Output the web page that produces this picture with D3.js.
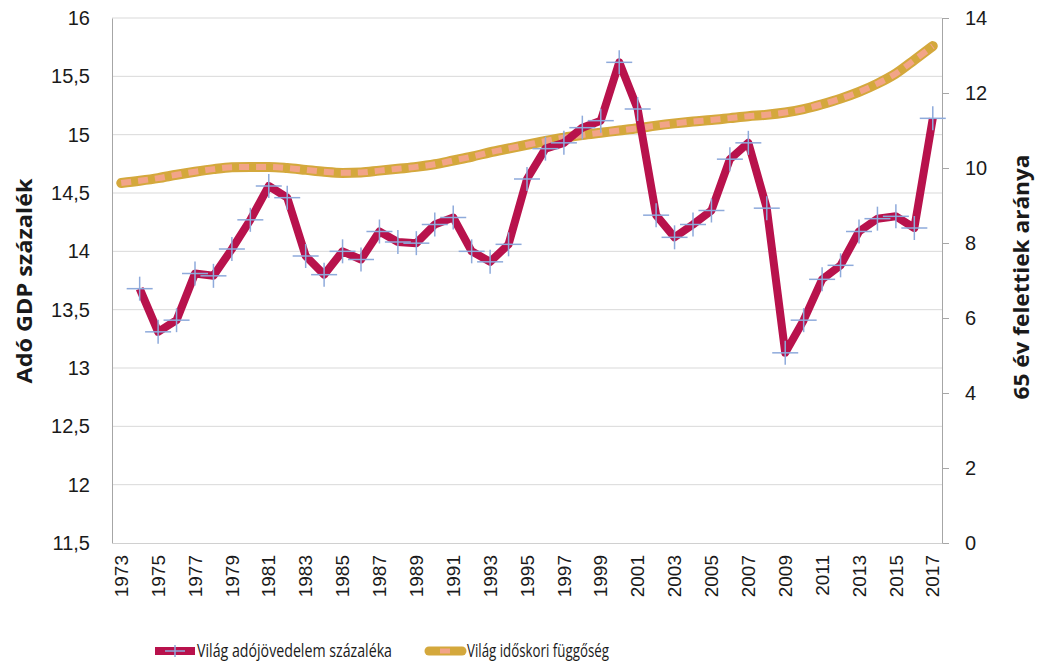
<!DOCTYPE html>
<html>
<head>
<meta charset="UTF-8">
<style>
    body { margin: 0; background: #fff; }
    svg { display: block; font-family: "Open Sans", "Noto Sans", sans-serif; }
    .grid line { stroke: #d9d9d9; stroke-width: 1px; }
    .tick text { fill: #1a1a1a; }
</style>
</head>
<body>
<svg></svg>
<script src="https://d3js.org/d3.v7.min.js"></script>
<script>
    let width = 1039, height = 664;

    // years on the x axis
    let years = d3.range(1973, 2018);
    let yearLabels = years.filter(y => (y - 1973) % 2 == 0);

    // tax revenue, % of GDP (left axis), starts 1974
    let taxYears = d3.range(1974, 2018);
    let taxValues = [13.68, 13.31, 13.41, 13.81, 13.79, 14.02, 14.27, 14.56, 14.46, 13.96, 13.8,
        14.0, 13.93, 14.17, 14.08, 14.07, 14.23, 14.29, 14.0, 13.91, 14.06, 14.62,
        14.88, 14.93, 15.06, 15.12, 15.62, 15.22, 14.31, 14.12, 14.23, 14.35, 14.79,
        14.93, 14.37, 13.13, 13.41, 13.76, 13.88, 14.17, 14.28, 14.3, 14.2, 15.14];

    // old-age dependency (right axis)
    let depValues = [9.6, 9.66, 9.73, 9.82, 9.9, 9.97, 10.02, 10.03, 10.03, 10.0, 9.95,
        9.9, 9.87, 9.88, 9.93, 9.98, 10.03, 10.1, 10.2, 10.3, 10.42, 10.52, 10.62,
        10.72, 10.81, 10.88, 10.94, 11.0, 11.06, 11.13, 11.19, 11.24, 11.28, 11.33,
        11.38, 11.42, 11.48, 11.57, 11.7, 11.85, 12.03, 12.25, 12.52, 12.88, 13.25];

    let leftTicks = [11.5, 12, 12.5, 13, 13.5, 14, 14.5, 15, 15.5, 16];
    let rightTicks = [0, 2, 4, 6, 8, 10, 12, 14];

    let margin = { left: 112, right: 97, top: 18, bottom: 121 };
    let x0 = margin.left, x1 = width - margin.right;
    let y0 = height - margin.bottom, y1 = margin.top;

    let svg = d3.select("svg").attr("width", width).attr("height", height);

    let x = d3.scaleBand().domain(years).range([x0, x1]);
    let xc = d => x(d) + x.bandwidth() / 2;
    let yL = d3.scaleLinear().domain([11.5, 16]).range([y0, y1]);
    let yR = d3.scaleLinear().domain([0, 14]).range([y0, y1]);

    let fmt = d => String(d).replace(".", ",");

    // grid
    svg.append("g").attr("class", "grid")
        .selectAll("line").data(leftTicks.slice(1)).enter().append("line")
        .attr("x1", x0).attr("x2", x1)
        .attr("y1", d => yL(d)).attr("y2", d => yL(d));

    // left axis
    let gl = svg.append("g").attr("transform", "translate(" + x0 + ",0)")
        .call(d3.axisLeft(yL).tickValues(leftTicks).tickFormat(fmt).tickSize(0).tickPadding(22));
    gl.select(".domain").attr("stroke", "#a6a6a6");
    gl.selectAll("text").attr("font-size", 20);

    // right axis
    let gr = svg.append("g").attr("transform", "translate(" + x1 + ",0)")
        .call(d3.axisRight(yR).tickValues(rightTicks).tickSize(7).tickPadding(16));
    gr.select(".domain").attr("stroke", "#a6a6a6");
    gr.selectAll(".tick line").attr("stroke", "#a6a6a6");
    gr.selectAll("text").attr("font-size", 20);

    // bottom axis
    let gb = svg.append("g").attr("transform", "translate(0," + y0 + ")")
        .call(d3.axisBottom(x).tickValues(yearLabels).tickSize(0).tickPadding(0));
    gb.select(".domain").attr("stroke", "#d0d0d0");
    gb.selectAll("text")
        .attr("font-size", 19)
        .attr("text-anchor", "end")
        .attr("dy", "0.35em")
        .attr("transform", "translate(0,12) rotate(-90)");

    // axis titles
    svg.append("text")
        .attr("transform", "translate(32,281) rotate(-90)")
        .attr("text-anchor", "middle").attr("font-size", 22).attr("font-weight", "bold")
        .attr("fill", "#1a1a1a").attr("textLength", 205).attr("lengthAdjust", "spacingAndGlyphs")
        .text("Adó GDP százalék");
    svg.append("text")
        .attr("transform", "translate(1029,277) rotate(-90)")
        .attr("text-anchor", "middle").attr("font-size", 22).attr("font-weight", "bold")
        .attr("fill", "#1a1a1a").attr("textLength", 245).attr("lengthAdjust", "spacingAndGlyphs")
        .text("65 év felettiek aránya");

    // dependency line
    let depLine = d3.line().x((d, i) => xc(years[i])).y(d => yR(d)).curve(d3.curveMonotoneX);
    svg.append("path").datum(depValues)
        .attr("d", depLine).attr("fill", "none")
        .attr("stroke", "#d4a83c").attr("stroke-width", 10).attr("stroke-linecap", "round");
    svg.append("path").datum(depValues)
        .attr("d", depLine).attr("fill", "none")
        .attr("stroke", "#f2a488").attr("stroke-width", 6)
        .attr("stroke-dasharray", "10,7");

    // tax line
    let taxLine = d3.line().x((d, i) => xc(taxYears[i])).y(d => yL(d));
    svg.append("path").datum(taxValues)
        .attr("d", taxLine).attr("fill", "none")
        .attr("stroke", "#b8124c").attr("stroke-width", 8).attr("stroke-linejoin", "round");

    let cross = svg.append("g").selectAll("g").data(taxValues).enter().append("g")
        .attr("transform", (d, i) => "translate(" + xc(taxYears[i]) + "," + yL(d) + ")");
    cross.append("line").attr("x1", -13).attr("x2", 13).attr("y1", 0).attr("y2", 0);
    cross.append("line").attr("x1", 0).attr("x2", 0).attr("y1", -12).attr("y2", 12);
    cross.selectAll("line").attr("stroke", "#8eaadb").attr("stroke-width", 1.5);

    // legend
    let lg = svg.append("g").attr("transform", "translate(0,651)");
    lg.append("line").attr("x1", 155).attr("x2", 195).attr("stroke", "#b8124c").attr("stroke-width", 8);
    lg.append("line").attr("x1", 175).attr("x2", 175).attr("y1", -6).attr("y2", 6)
        .attr("stroke", "#8eaadb").attr("stroke-width", 1.5);
    lg.append("line").attr("x1", 165).attr("x2", 185)
        .attr("stroke", "#8eaadb").attr("stroke-width", 1.5);
    lg.append("text").attr("x", 197).attr("dy", "0.35em").attr("font-size", 18)
        .attr("fill", "#1a1a1a").attr("textLength", 195).attr("lengthAdjust", "spacingAndGlyphs")
        .text("Világ adójövedelem százaléka");

    lg.append("line").attr("x1", 429).attr("x2", 462).attr("stroke", "#d4a83c")
        .attr("stroke-width", 9).attr("stroke-linecap", "round");
    lg.append("line").attr("x1", 440).attr("x2", 450).attr("stroke", "#f2a488").attr("stroke-width", 5);
    lg.append("text").attr("x", 467).attr("dy", "0.35em").attr("font-size", 18)
        .attr("fill", "#1a1a1a").attr("textLength", 142).attr("lengthAdjust", "spacingAndGlyphs")
        .text("Világ időskori függőség");
</script>
</body>
</html>
